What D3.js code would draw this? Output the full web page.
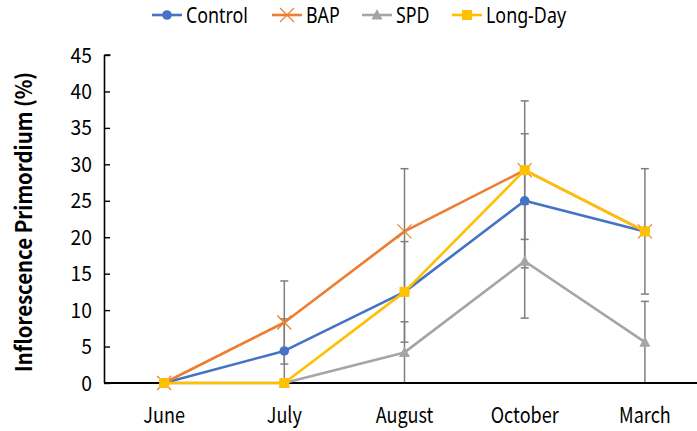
<!DOCTYPE html>
<html>
<head>
<meta charset="utf-8">
<script src="https://cdn.jsdelivr.net/npm/d3@7"></script>
<style>
  html, body { margin: 0; padding: 0; background: #fff; }
  svg { display: block; }
  text { font-family: "Noto Sans CJK KR", "Noto Sans", sans-serif; fill: #000; }
  .legend text { font-family: "Noto Sans", sans-serif; }
</style>
</head>
<body>
<svg id="chart" width="697" height="431"></svg>
<script>
// Sampling months
const months = ["June", "July", "August", "October", "March"];

// Inflorescence primordium formation (%) per treatment
const control  = [0, 4.4, 12.5, 25.0, 20.8];
const bap      = [0, 8.3, 20.8, 29.2, 20.8];
const spd      = [0, 0, 4.2, 16.7, 5.6];
const longDay  = [0, 0, 12.5, 29.2, 20.8];

// Standard deviations (null = no bar drawn)
const controlErr = [null, 4.4, 6.9, 9.2, null];
const bapErr     = [null, 5.7, 8.6, 9.5, 8.6];
const spdErr     = [null, null, 4.2, 7.8, 5.6];
const longDayErr = [null, null, null, null, null];

const yTicks = [0, 5, 10, 15, 20, 25, 30, 35, 40, 45];

const series = [
  { name: "Control",  values: control,  err: controlErr, color: "#4472C4", marker: "circle" },
  { name: "BAP",      values: bap,      err: bapErr,     color: "#ED7D31", marker: "x" },
  { name: "SPD",      values: spd,      err: spdErr,     color: "#A5A5A5", marker: "triangle" },
  { name: "Long-Day", values: longDay,  err: longDayErr, color: "#FFC000", marker: "square" }
];

const svg = d3.select("#chart");

const x = d3.scaleBand().domain(months).range([104, 705]).padding(0);
const cx = m => x(m) + x.bandwidth() / 2;
const y = d3.scaleLinear().domain([0, 45]).range([383, 55]);

// Narrow label text: positioned at (px, py), squeezed horizontally
function label(g, px, py, str, size, sx, anchor) {
  return g.append("text")
    .attr("transform", `translate(${px},${py}) scale(${sx},1)`)
    .attr("text-anchor", anchor).attr("font-size", size).text(str);
}

// Y axis: ticks point into the plot
const yAxis = d3.axisRight(y).tickValues(yTicks).tickSize(6).tickFormat("");
const gy = svg.append("g").attr("transform", "translate(104,0)").call(yAxis);
gy.select(".domain").attr("stroke", "#000").attr("stroke-width", 1.6).attr("d", `M0.5,${y(45)}H6.5M0.5,${y(45)}V${y(0)}`);
gy.selectAll(".tick line").attr("stroke", "#000").attr("stroke-width", 1.4);

const gyl = svg.append("g");
yTicks.forEach(t => label(gyl, 92, y(t) + 7.6, t, 21, 0.92, "end"));

// Axis title
svg.append("text")
  .attr("transform", `translate(31.5,${(y(0) + y(45)) / 2 + 3}) rotate(-90)`)
  .attr("text-anchor", "middle").attr("font-size", 22).attr("font-weight", 700)
  .attr("textLength", 300).attr("lengthAdjust", "spacingAndGlyphs")
  .text("Inflorescence Primordium (%)");

// Error bars
const errG = svg.append("g");
series.forEach(s => {
  s.values.forEach((v, i) => {
    const e = s.err[i];
    if (e == null) return;
    const px = cx(months[i]);
    const top = y(Math.min(45, v + e));
    const bot = y(Math.max(0, v - e));
    errG.append("line").attr("x1", px).attr("x2", px).attr("y1", top).attr("y2", bot)
      .attr("stroke", "#7F7F7F").attr("stroke-width", 1.5);
    [v + e, v - e].forEach(c => {
      if (c < 0.05 || c > 45) return;
      errG.append("line").attr("x1", px - 4).attr("x2", px + 4).attr("y1", y(c)).attr("y2", y(c))
        .attr("stroke", "#7F7F7F").attr("stroke-width", 1.5);
    });
  });
});

// X axis line
svg.append("line").attr("x1", 104).attr("x2", 697).attr("y1", y(0)).attr("y2", y(0))
  .attr("stroke", "#000").attr("stroke-width", 2);

const gxl = svg.append("g");
months.forEach(m => label(gxl, cx(m), 422.5, m, 22, 0.82, "middle"));

function drawMarker(g, type, color, px, py) {
  if (type === "circle") {
    g.append("circle").attr("cx", px).attr("cy", py).attr("r", 4.8).attr("fill", color);
  } else if (type === "square") {
    g.append("rect").attr("x", px - 5).attr("y", py - 5).attr("width", 10).attr("height", 10).attr("fill", color);
  } else if (type === "triangle") {
    g.append("path").attr("d", `M${px},${py - 6}L${px + 5.5},${py + 4.5}L${px - 5.5},${py + 4.5}Z`).attr("fill", color);
  } else if (type === "x") {
    g.append("path").attr("d", `M${px - 7},${py - 7}L${px + 7},${py + 7}M${px - 7},${py + 7}L${px + 7},${py - 7}`)
      .attr("stroke", color).attr("stroke-width", 1.2).attr("fill", "none");
  }
}

// Lines and markers
const line = d3.line().x((d, i) => cx(months[i])).y(d => y(d));
series.forEach(s => {
  const g = svg.append("g");
  g.append("path").datum(s.values).attr("d", line)
    .attr("fill", "none").attr("stroke", s.color).attr("stroke-width", 2.6).attr("stroke-linejoin", "round");
  s.values.forEach((v, i) => drawMarker(g, s.marker, s.color, cx(months[i]), y(v)));
});

// Legend
const legendX = [152, 272, 362, 452];
const legend = svg.append("g").attr("class", "legend");
series.forEach((s, i) => {
  const g = legend.append("g");
  const lx = legendX[i];
  g.append("line").attr("x1", lx).attr("x2", lx + 30).attr("y1", 15).attr("y2", 15)
    .attr("stroke", s.color).attr("stroke-width", 2.6);
  drawMarker(g, s.marker, s.color, lx + 15, 15);
  label(g, lx + 34, 23, s.name, 21, 0.85, "start");
});
</script>
</body>
</html>
